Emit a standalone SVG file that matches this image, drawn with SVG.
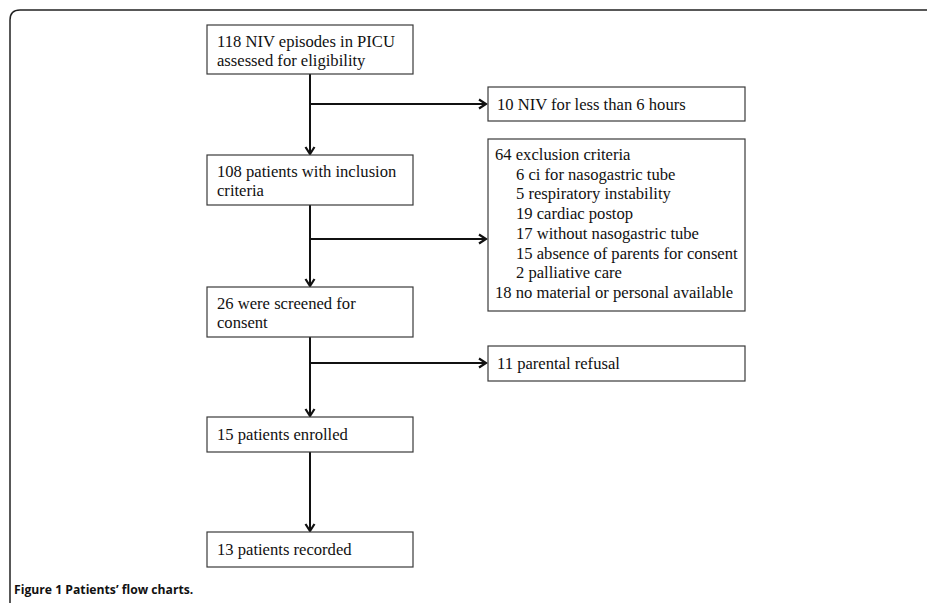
<svg xmlns="http://www.w3.org/2000/svg" width="927" height="603" viewBox="0 0 927 603">
<style>
.box{fill:#fff;stroke:#3a3a3a;stroke-width:1.2}
.t{font-family:"Liberation Serif","Times New Roman",serif;font-size:16.6px;fill:#111}
.ln{stroke:#111;stroke-width:2;fill:none}
.cap{font-family:"Open Sans","Noto Sans",sans-serif;font-weight:bold;font-size:12.2px;fill:#111}
</style>
<defs>
<marker id="ah" markerWidth="12" markerHeight="12" viewBox="0 0 12 12" refX="10" refY="6" orient="auto" markerUnits="userSpaceOnUse">
<polyline points="3,1.5 10,6 3,10.5" fill="none" stroke="#111" stroke-width="2.2"/>
</marker>
</defs>
<path d="M927,10 H20 Q10,10 10,20 V603" fill="none" stroke="#222" stroke-width="1.5"/>
<g id="connectors">
<line class="ln" x1="310" y1="74" x2="310" y2="154" marker-end="url(#ah)"/>
<line class="ln" x1="311" y1="104" x2="486" y2="104" marker-end="url(#ah)"/>
<line class="ln" x1="310" y1="205" x2="310" y2="286" marker-end="url(#ah)"/>
<line class="ln" x1="311" y1="239" x2="486" y2="239" marker-end="url(#ah)"/>
<line class="ln" x1="310" y1="337" x2="310" y2="416" marker-end="url(#ah)"/>
<line class="ln" x1="311" y1="363" x2="486" y2="363" marker-end="url(#ah)"/>
<line class="ln" x1="310" y1="452" x2="310" y2="531" marker-end="url(#ah)"/>
</g>
<g id="n1"><rect class="box" x="207" y="25" width="206" height="49"/><text class="t" x="217" y="47">118 NIV episodes in PICU</text><text class="t" x="217" y="66">assessed for eligibility</text></g>
<g id="n2"><rect class="box" x="207" y="155" width="206" height="50"/><text class="t" x="217" y="177">108 patients with inclusion</text><text class="t" x="217" y="196">criteria</text></g>
<g id="n3"><rect class="box" x="207" y="287" width="206" height="50"/><text class="t" x="217" y="309">26 were screened for</text><text class="t" x="217" y="328">consent</text></g>
<g id="n4"><rect class="box" x="207" y="417" width="206" height="35"/><text class="t" x="217" y="440">15 patients enrolled</text></g>
<g id="n5"><rect class="box" x="207" y="532" width="206" height="35"/><text class="t" x="217" y="555">13 patients recorded</text></g>
<g id="e1"><rect class="box" x="488" y="87" width="257" height="34"/><text class="t" x="497" y="110">10 NIV for less than 6 hours</text></g>
<g id="e2"><rect class="box" x="488" y="139" width="257" height="172"/>
<text class="t" x="495" y="160">64 exclusion criteria</text>
<text class="t" x="516" y="179.7">6 ci for nasogastric tube</text>
<text class="t" x="516" y="199.4">5 respiratory instability</text>
<text class="t" x="516" y="219.1">19 cardiac postop</text>
<text class="t" x="516" y="238.8">17 without nasogastric tube</text>
<text class="t" x="516" y="258.5">15 absence of parents for consent</text>
<text class="t" x="516" y="278.2">2 palliative care</text>
<text class="t" x="495" y="297.9">18 no material or personal available</text>
</g>
<g id="e3"><rect class="box" x="488" y="346" width="257" height="35"/><text class="t" x="497" y="369">11 parental refusal</text></g>
<text class="cap" x="14" y="594">Figure 1 Patients’ flow charts.</text>
</svg>
